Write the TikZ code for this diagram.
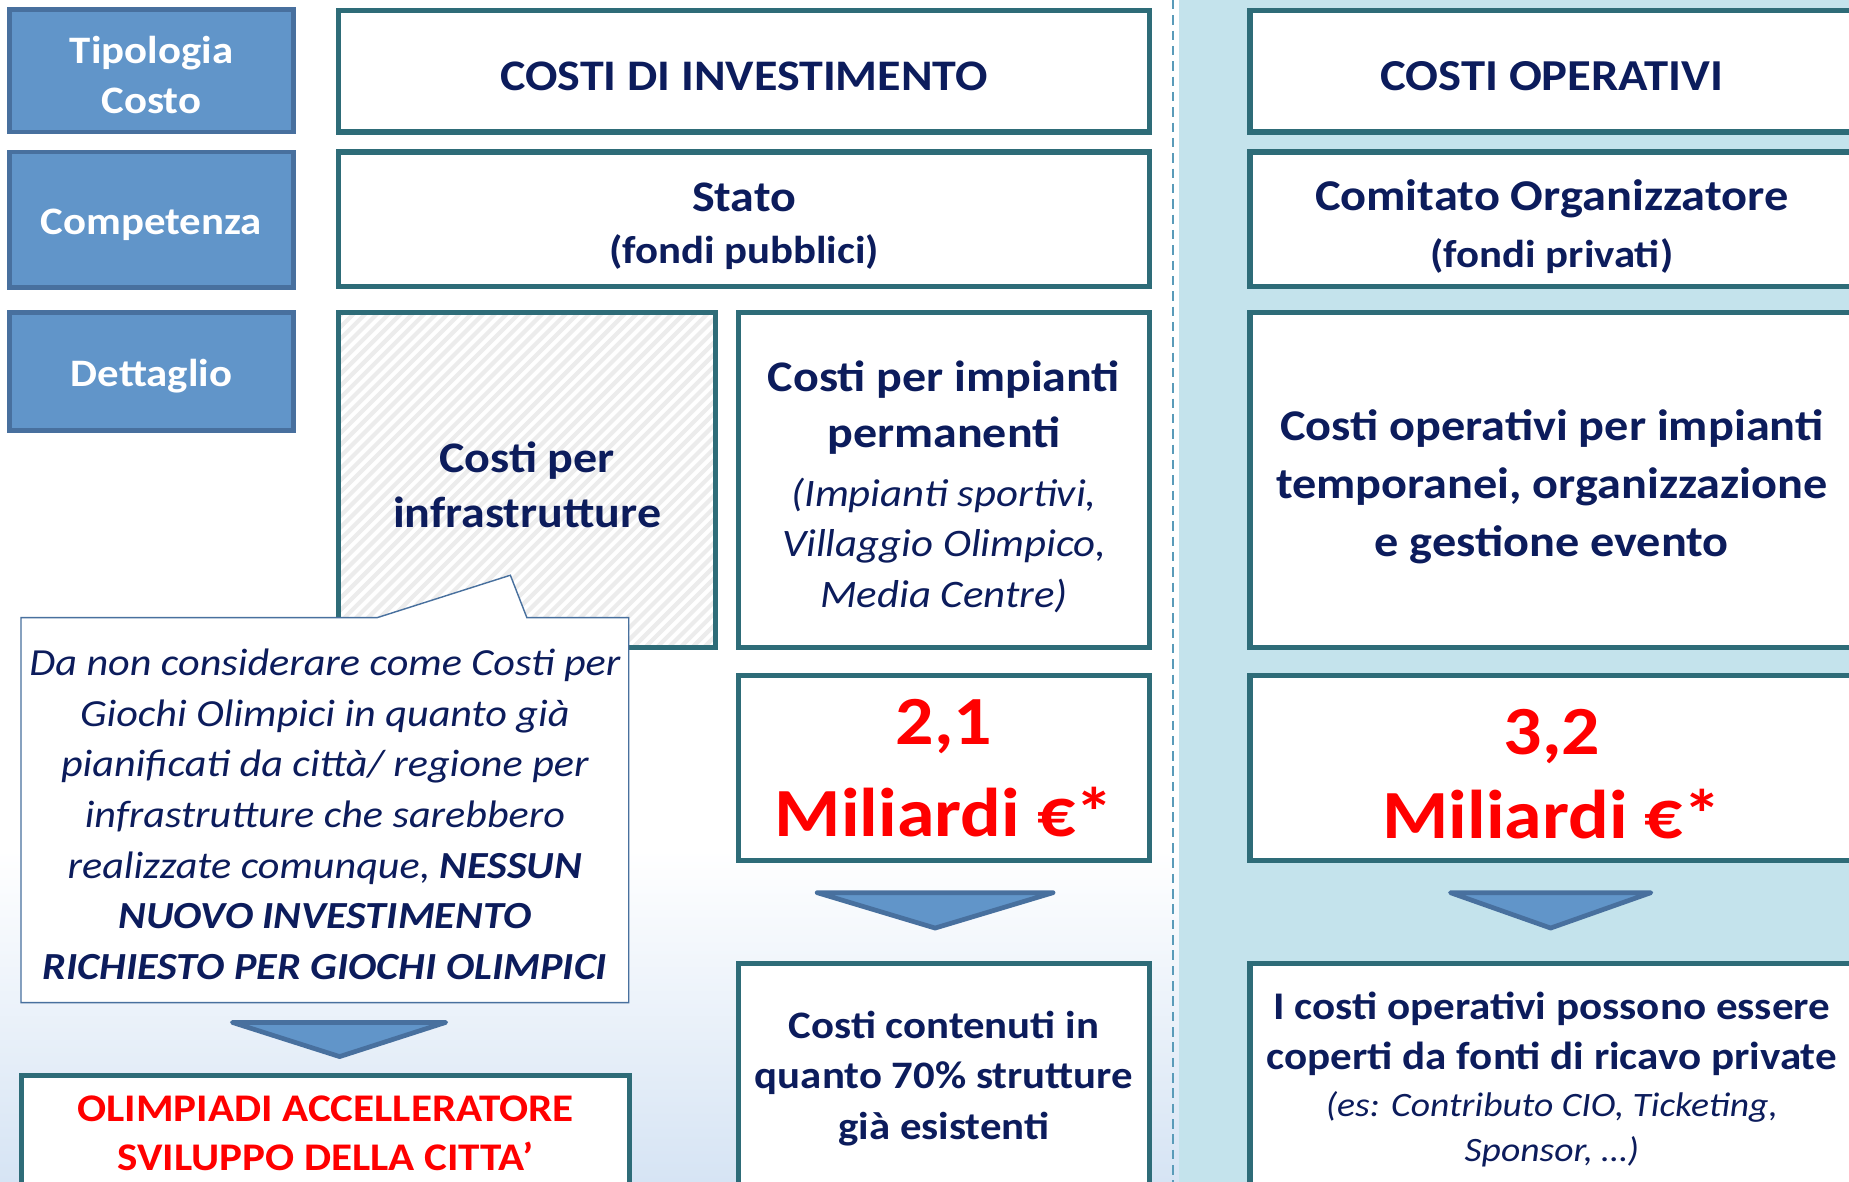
\documentclass[tikz,border=0pt]{standalone}
\usepackage{fontspec}
\setmainfont{Carlito}[FakeStretch=1.1]
\usetikzlibrary{calc}
\definecolor{navy}{RGB}{12,28,92}
\definecolor{tealb}{RGB}{46,108,120}
\definecolor{bbfill}{RGB}{97,149,201}
\definecolor{bbdraw}{RGB}{72,112,158}
\definecolor{panel}{RGB}{196,227,236}
\definecolor{dashc}{RGB}{90,155,185}
\definecolor{skyb}{RGB}{214,228,244}
\definecolor{hatchc}{RGB}{236,236,236}
\definecolor{redt}{RGB}{255,0,0}
\tikzset{
  lbl/.style={draw=bbdraw, fill=bbfill, line width=4, inner sep=0},
  lbltxt/.style={text=white, align=center, inner sep=0, font=\bfseries\fontsize{33}{43}\selectfont},
  cbox/.style={draw=tealb, line width=4.5, fill=white, inner sep=0},
  txt/.style={text=navy, align=center, inner sep=0, font=\bfseries},
  tri/.style={fill=bbfill, draw=bbdraw, line width=4, line join=round},
  hatched/.style={path picture={
      \foreach \i in {-320,-310,...,340}
        \draw[hatchc, line width=3.5]
          ($(path picture bounding box.south west)+(\i,0)$) -- ++(320,-320);
    }},
}
\begin{document}
\begin{tikzpicture}[x=1pt,y=-1pt]
\clip (0,0) rectangle (1568,1002);
% backgrounds
\fill[white] (0,0) rectangle (1000,1002);
\shade[top color=white, bottom color=skyb] (0,720) rectangle (1000,1002);
\fill[panel] (1000,0) rectangle (1568,1002);
\draw[dashc, line width=1.5, dash pattern=on 8 off 5] (995,0) -- (995,1002);

% row labels
\node[lbl, minimum width=241, minimum height=104] (tip) at (128.5,60) {};
\node[lbltxt] (tipt) at ($(tip.center)+(0,3.5)$) {Tipologia\\Costo};
\node[lbl, minimum width=241, minimum height=115] (comp) at (128.5,186.5) {};
\node[lbltxt] (compt) at ($(comp.center)+(0,4)$) {Competenza};
\node[lbl, minimum width=241, minimum height=100] (dett) at (128.5,315) {};
\node[lbltxt] (dettt) at ($(dett.center)+(0,4)$) {Dettaglio};

% investment column
\node[cbox, minimum width=688, minimum height=103] (inv) at (631,60.5) {};
\node[txt, font=\bfseries\fontsize{37}{44}\selectfont] (invt) at ($(inv.center)+(0,4)$) {COSTI DI INVESTIMENTO};

\node[cbox, minimum width=688, minimum height=114] (stato) at (631,186) {};
\node[txt, font=\bfseries\fontsize{37}{44}\selectfont] (statot) at ($(stato.center)+(0,6)$)
  {Stato\\{\fontsize{33}{44}\selectfont (fondi pubblici)}};

\node[cbox, hatched, minimum width=320, minimum height=284] (infra) at (447,407) {};
\node[txt, font=\bfseries\fontsize{37}{47}\selectfont] (infrat) at ($(infra.center)+(0,4)$)
  {Costi per\\infrastrutture};

\node[cbox, minimum width=349, minimum height=284] (imp) at (800.5,407) {};
\node[txt, font=\bfseries\fontsize{37}{43}\selectfont] (impt) at (800.5,413)
  {Costi per impianti\\[4pt]permanenti\\[7pt]
  {\mdseries\itshape\fontsize{33}{43}\selectfont (Impianti sportivi,}\\
  {\mdseries\itshape\fontsize{33}{43}\selectfont Villaggio Olimpico,}\\
  {\mdseries\itshape\fontsize{33}{43}\selectfont Media Centre)}};

\node[cbox, minimum width=349, minimum height=157] (v21) at (800.5,651.5) {};
\node[txt, text=redt, font=\bfseries\fontsize{58.5}{78}\selectfont] (v21t) at (v21.center) {2,1\\Miliardi €*};

\node[cbox, minimum width=349, minimum height=193] (cont) at (800.5,913.5) {};
\node[txt, font=\bfseries\fontsize{33}{43}\selectfont] (contt) at ($(cont.center)+(0,1)$)
  {Costi contenuti in\\quanto 70\% strutture\\già esistenti};

% operating column
\node[cbox, minimum width=512, minimum height=103] (op) at (1316,60.5) {};
\node[txt, font=\bfseries\fontsize{37.5}{44}\selectfont] (opt) at ($(op.center)+(0,4)$) {COSTI OPERATIVI};

\node[cbox, minimum width=512, minimum height=114] (com) at (1316,186) {};
\node[txt, font=\bfseries\fontsize{37.3}{48}\selectfont] (comt) at ($(com.center)+(0,6)$)
  {Comitato Organizzatore\\{\fontsize{33}{48}\selectfont (fondi privati)}};

\node[cbox, minimum width=512, minimum height=284] (opd) at (1316,407) {};
\node[txt, font=\bfseries\fontsize{37.2}{49}\selectfont] (opdt) at ($(opd.center)+(0,6)$)
  {Costi operativi per impianti\\temporanei, organizzazione\\e gestione evento};

\node[cbox, minimum width=512, minimum height=157] (v32) at (1316,651.5) {};
\node[txt, text=redt, font=\bfseries\fontsize{58.5}{72}\selectfont] (v32t) at ($(v32.center)+(0,5)$) {3,2\\Miliardi €*};

\node[cbox, minimum width=512, minimum height=195] (cop) at (1316,914.5) {};
\node[txt, font=\bfseries\fontsize{33.2}{38}\selectfont] (copt) at ($(cop.center)+(0,1)$)
  {I costi operativi possono essere\\[4pt]coperti da fonti di ricavo private\\[2pt]
  {\mdseries\itshape\fontsize{29}{38}\selectfont (es: Contributo CIO, Ticketing,}\\
  {\mdseries\itshape\fontsize{29}{38}\selectfont Sponsor, …)}};

% callout
\node[minimum width=515, minimum height=326, inner sep=0] (call) at (275.5,687) {};
\draw[bbdraw, line width=1.2, fill=white]
  (call.north west) -- ($(call.north west)+(302,0)$) -- ($(call.north west)+(415,-36)$)
  -- ($(call.north west)+(429,0)$) -- (call.north east) -- (call.south east)
  -- (call.south west) -- cycle;
\node[text=navy, align=center, inner sep=0, font=\itshape\fontsize{32.5}{43}\selectfont]
  (calltxt) at ($(call.center)+(0,3.5)$) {Da non considerare come Costi per\\Giochi Olimpici in quanto già\\pianificati da città/ regione per\\infrastrutture che sarebbero\\realizzate comunque, \textbf{NESSUN}\\\textbf{NUOVO INVESTIMENTO}\\\textbf{RICHIESTO PER GIOCHI OLIMPICI}};

\node[cbox, minimum width=516, minimum height=98] (olim) at (276,961) {};
\node[txt, text=redt, font=\bfseries\fontsize{33.2}{42}\selectfont] (olimt) at (olim.center)
  {OLIMPIADI ACCELLERATORE\\SVILUPPO DELLA CITTA’};

% arrows
\draw[tri] (693,757) -- (893,757) -- (793,787) -- cycle;
\draw[tri] (1230,757) -- (1400,757) -- (1315,787) -- cycle;
\draw[tri] (197,867) -- (378,867) -- (288,896) -- cycle;
\end{tikzpicture}
\end{document}
